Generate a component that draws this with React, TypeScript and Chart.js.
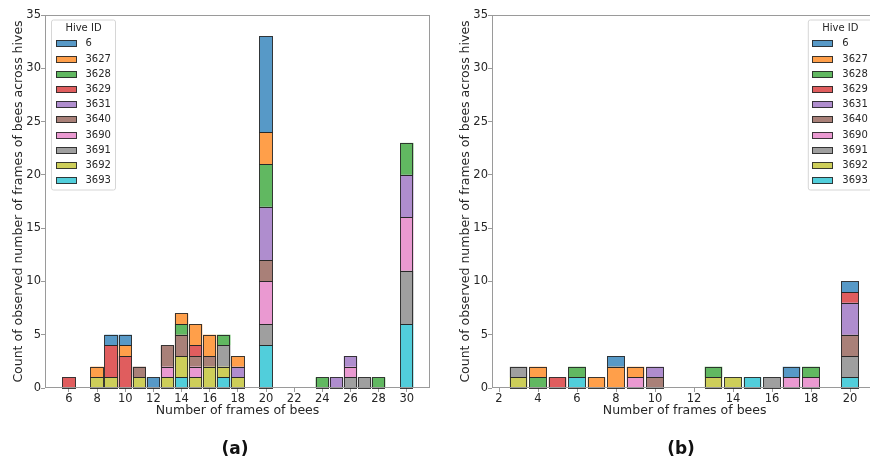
import React, { useEffect, useRef } from "react";
import { Chart, registerables } from "chart.js";

Chart.register(...registerables);

// ---------- data ----------
const hiveIds = ["6", "3627", "3628", "3629", "3631", "3640", "3690", "3691", "3692", "3693"];
const hiveRgb = [
  "31,119,180", "255,127,14", "44,160,44", "214,39,40", "148,103,189",
  "140,86,75", "227,119,194", "127,127,127", "188,189,34", "23,190,207",
];

// Panel (a)
const binsA = [6, 8, 9, 10, 11, 12, 13, 14, 15, 16, 17, 18, 20, 24, 25, 26, 27, 28, 30];
const a6 = [0, 0, 1, 1, 0, 1, 0, 0, 0, 0, 0, 0, 9, 0, 0, 0, 0, 0, 0];
const a3627 = [0, 1, 0, 1, 0, 0, 0, 1, 2, 2, 0, 1, 3, 0, 0, 0, 0, 0, 0];
const a3628 = [0, 0, 0, 0, 0, 0, 0, 1, 0, 0, 1, 0, 4, 1, 0, 0, 0, 1, 3];
const a3629 = [1, 0, 3, 3, 0, 0, 0, 0, 1, 0, 0, 0, 0, 0, 0, 0, 0, 0, 0];
const a3631 = [0, 0, 0, 0, 0, 0, 0, 0, 0, 0, 0, 1, 5, 0, 1, 1, 0, 0, 4];
const a3640 = [0, 0, 0, 0, 1, 0, 2, 2, 1, 1, 0, 0, 2, 0, 0, 0, 0, 0, 0];
const a3690 = [0, 0, 0, 0, 0, 0, 1, 0, 1, 0, 0, 0, 4, 0, 0, 1, 0, 0, 5];
const a3691 = [0, 0, 0, 0, 0, 0, 0, 0, 0, 0, 2, 0, 2, 0, 0, 1, 1, 0, 5];
const a3692 = [0, 1, 1, 0, 1, 0, 1, 2, 1, 2, 1, 1, 0, 0, 0, 0, 0, 0, 0];
const a3693 = [0, 0, 0, 0, 0, 0, 0, 1, 0, 0, 1, 0, 4, 0, 0, 0, 0, 0, 6];
const countsA = [a6, a3627, a3628, a3629, a3631, a3640, a3690, a3691, a3692, a3693];

// Panel (b)
const binsB = [3, 4, 5, 6, 7, 8, 9, 10, 13, 14, 15, 16, 17, 18, 20];
const b6 = [0, 0, 0, 0, 0, 1, 0, 0, 0, 0, 0, 0, 1, 0, 1];
const b3627 = [0, 1, 0, 0, 1, 2, 1, 0, 0, 0, 0, 0, 0, 0, 0];
const b3628 = [0, 1, 0, 1, 0, 0, 0, 0, 1, 0, 0, 0, 0, 1, 0];
const b3629 = [0, 0, 1, 0, 0, 0, 0, 0, 0, 0, 0, 0, 0, 0, 1];
const b3631 = [0, 0, 0, 0, 0, 0, 0, 1, 0, 0, 0, 0, 0, 0, 3];
const b3640 = [0, 0, 0, 0, 0, 0, 0, 1, 0, 0, 0, 0, 0, 0, 2];
const b3690 = [0, 0, 0, 0, 0, 0, 1, 0, 0, 0, 0, 0, 1, 1, 0];
const b3691 = [1, 0, 0, 0, 0, 0, 0, 0, 0, 0, 0, 1, 0, 0, 2];
const b3692 = [1, 0, 0, 0, 0, 0, 0, 0, 1, 1, 0, 0, 0, 0, 0];
const b3693 = [0, 0, 0, 1, 0, 0, 0, 0, 0, 0, 1, 0, 0, 0, 1];
const countsB = [b6, b3627, b3628, b3629, b3631, b3640, b3690, b3691, b3692, b3693];

const xTicksA = [6, 8, 10, 12, 14, 16, 18, 20, 22, 24, 26, 28, 30];
const xTicksB = [2, 4, 6, 8, 10, 12, 14, 16, 18, 20];
const yTicks = [0, 5, 10, 15, 20, 25, 30, 35];

const xTitle = "Number of frames of bees";
const yTitle = "Count of observed number of frames of bees across hives";
const legendTitle = "Hive ID";

// ---------- style ----------
const FONT = "'DejaVu Sans', sans-serif";
const TEXT = "#262626";
const SPINE = "#9a9a9a";
const EDGE = "rgba(40,40,40,0.9)";

type PanelCfg = {
  bins: number[];
  counts: number[][];
  xTicks: number[];
  xMin: number;
  xMax: number;
  barPct: number;
  yAxisWidth: number;
  yTitlePad: number;
  padRight: number;
  legendSide: "left" | "right";
};

function buildDatasets(p: PanelCfg) {
  const ds: any[] = [];
  for (let i = hiveIds.length - 1; i >= 0; i--) {
    const pts: { x: number; y: number }[] = [];
    p.bins.forEach((b, j) => {
      if (p.counts[i][j] > 0) pts.push({ x: b, y: p.counts[i][j] });
    });
    ds.push({
      label: hiveIds[i],
      data: pts,
      backgroundColor: `rgba(${hiveRgb[i]},0.75)`,
      borderWidth: 0,
      inflateAmount: 0,
      barPercentage: p.barPct,
      categoryPercentage: 1,
      stack: "s",
    });
  }
  return ds;
}

// crisp edges around every bar segment, using the bar elements' own geometry
function edgePlugin() {
  return {
    id: "barEdges",
    afterDatasetsDraw(chart: any) {
      const { ctx } = chart;
      ctx.save();
      ctx.strokeStyle = EDGE;
      ctx.lineWidth = 1;
      chart.data.datasets.forEach((_: any, di: number) => {
        const meta = chart.getDatasetMeta(di);
        meta.data.forEach((el: any) => {
          const { x, y, base, width } = el.getProps(["x", "y", "base", "width"], true);
          const l = Math.round(x - width / 2) + 0.5;
          const r = Math.round(x + width / 2) - 0.5;
          const t = Math.round(y) + 0.5;
          const b = Math.round(base) + 0.5;
          ctx.strokeRect(l, t, r - l, b - t);
        });
      });
      ctx.restore();
    },
  };
}

function framePlugin() {
  return {
    id: "frame",
    afterDraw(chart: any) {
      const { ctx, chartArea } = chart;
      ctx.save();
      ctx.strokeStyle = SPINE;
      ctx.lineWidth = 1;
      const l = Math.round(chartArea.left) + 0.5;
      const t = Math.round(chartArea.top) + 0.5;
      const r = Math.round(chartArea.right) - 0.5;
      const b = Math.round(chartArea.bottom) - 0.5;
      ctx.strokeRect(l, t, r - l, b - t);
      ctx.restore();
    },
  };
}

function legendPlugin(side: "left" | "right") {
  return {
    id: "hiveLegend",
    afterDraw(chart: any) {
      const { ctx, chartArea } = chart;
      const w = 64;
      const h = 170;
      const x0 = side === "left" ? chartArea.left + 6.5 : chartArea.right - 5 - w;
      const y0 = chartArea.top + 5;
      ctx.save();
      ctx.beginPath();
      const r = 2;
      ctx.moveTo(x0 + r, y0);
      ctx.lineTo(x0 + w - r, y0);
      ctx.quadraticCurveTo(x0 + w, y0, x0 + w, y0 + r);
      ctx.lineTo(x0 + w, y0 + h - r);
      ctx.quadraticCurveTo(x0 + w, y0 + h, x0 + w - r, y0 + h);
      ctx.lineTo(x0 + r, y0 + h);
      ctx.quadraticCurveTo(x0, y0 + h, x0, y0 + h - r);
      ctx.lineTo(x0, y0 + r);
      ctx.quadraticCurveTo(x0, y0, x0 + r, y0);
      ctx.closePath();
      ctx.fillStyle = "rgba(255,255,255,0.85)";
      ctx.fill();
      ctx.strokeStyle = "#d6d6d6";
      ctx.lineWidth = 1;
      ctx.stroke();

      ctx.font = `10px ${FONT}`;
      ctx.fillStyle = TEXT;
      ctx.textAlign = "center";
      ctx.textBaseline = "middle";
      ctx.fillText(legendTitle, x0 + w / 2, y0 + 8.5);

      ctx.textAlign = "left";
      for (let i = 0; i < hiveIds.length; i++) {
        const yc = Math.round(y0 + 23.3 + i * 15.2);
        ctx.fillStyle = `rgba(${hiveRgb[i]},0.75)`;
        ctx.fillRect(Math.round(x0 + 4), yc - 3, 21, 7);
        ctx.strokeStyle = EDGE;
        ctx.strokeRect(Math.round(x0 + 4) + 0.5, yc - 2.5, 20, 6);
        ctx.fillStyle = TEXT;
        ctx.fillText(hiveIds[i], x0 + 34, yc);
      }
      ctx.restore();
    },
  };
}

function makeConfig(p: PanelCfg): any {
  return {
    type: "bar",
    data: { datasets: buildDatasets(p) },
    options: {
      responsive: false,
      maintainAspectRatio: false,
      animation: false,
      devicePixelRatio: 1,
      layout: { padding: { left: 0, top: 15, right: p.padRight, bottom: 0 } },
      plugins: { legend: { display: false }, tooltip: { enabled: false } },
      scales: {
        x: {
          type: "linear",
          min: p.xMin,
          max: p.xMax,
          offset: false,
          stacked: true,
          grid: { display: true, offset: false, drawOnChartArea: false, drawTicks: true, tickLength: 4, color: SPINE },
          border: { display: false },
          afterBuildTicks: (axis: any) => {
            axis.ticks = p.xTicks.map((v) => ({ value: v }));
          },
          afterFit: (scale: any) => {
            scale.height = 70;
          },
          ticks: {
            autoSkip: false,
            maxRotation: 0,
            padding: 0,
            color: TEXT,
            font: { family: FONT, size: 11.5 },
            callback: (v: any) => String(v),
          },
          title: {
            display: true,
            text: xTitle,
            color: TEXT,
            font: { family: FONT, size: 12.5 },
            padding: { top: 0, bottom: 39.5 },
          },
        },
        y: {
          type: "linear",
          min: 0,
          max: 35,
          stacked: true,
          grid: { display: true, drawOnChartArea: false, drawTicks: true, tickLength: 4, color: SPINE },
          border: { display: false },
          afterBuildTicks: (axis: any) => {
            axis.ticks = yTicks.map((v) => ({ value: v }));
          },
          afterFit: (scale: any) => {
            scale.width = p.yAxisWidth;
          },
          ticks: {
            padding: 0,
            color: TEXT,
            font: { family: FONT, size: 11.5 },
            callback: (v: any) => String(v),
          },
          title: {
            display: true,
            text: yTitle,
            color: TEXT,
            font: { family: FONT, size: 12.5 },
            padding: { top: p.yTitlePad, bottom: 0 },
          },
        },
      },
    },
    plugins: [edgePlugin(), framePlugin(), legendPlugin(p.legendSide)],
  };
}

const panelA: PanelCfg = {
  bins: binsA,
  counts: countsA,
  xTicks: xTicksA,
  xMin: 4.3,
  xMax: 31.65,
  barPct: 0.95,
  yAxisWidth: 45,
  yTitlePad: 11.5,
  padRight: 10,
  legendSide: "left",
};

const panelB: PanelCfg = {
  bins: binsB,
  counts: countsB,
  xTicks: xTicksB,
  xMin: 1.64,
  xMax: 21.4,
  barPct: 0.9,
  yAxisWidth: 52,
  yTitlePad: 18.5,
  padRight: 7.7,
  legendSide: "right",
};

function Panel({ cfg, left, width }: { cfg: PanelCfg; left: number; width: number }) {
  const ref = useRef<HTMLCanvasElement | null>(null);
  useEffect(() => {
    if (!ref.current) return;
    const chart = new Chart(ref.current, makeConfig(cfg));
    return () => chart.destroy();
  }, [cfg]);
  return (
    <canvas
      ref={ref}
      width={width}
      height={458}
      style={{ position: "absolute", left, top: 0, width, height: 458 }}
    />
  );
}

const labelStyle = (cx: number): React.CSSProperties => ({
  position: "absolute",
  left: cx - 30,
  width: 60,
  top: 438,
  lineHeight: "20px",
  textAlign: "center",
  fontFamily: FONT,
  fontWeight: "bold",
  fontSize: 17,
  color: "#111",
});

export default function App() {
  return (
    <div
      style={{
        position: "fixed",
        left: 0,
        top: 0,
        width: 870,
        height: 458,
        overflow: "hidden",
        background: "#fff",
      }}
    >
      <Panel cfg={panelA} left={0} width={440} />
      <Panel cfg={panelB} left={440} width={445} />
      <div style={labelStyle(235)}>(a)</div>
      <div style={labelStyle(681)}>(b)</div>
    </div>
  );
}
